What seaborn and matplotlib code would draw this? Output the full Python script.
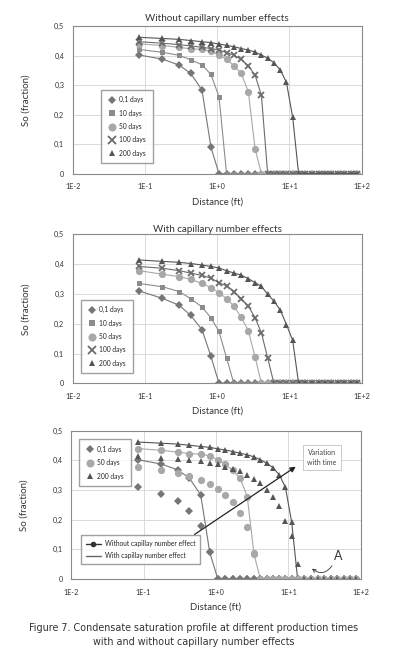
#! /usr/bin/env python3

import numpy as np
import matplotlib
matplotlib.use("Agg")
import matplotlib.pyplot as plt
from matplotlib.lines import Line2D
import pandas as pd
import seaborn as sns

sns.set_style("whitegrid")
plt.rcParams['font.family'] = ['Lato', 'DejaVu Sans']

# radial distance of the grid blocks (ft)
dist = [0.083, 0.175, 0.297, 0.43, 0.617, 0.82, 1.06, 1.35, 1.7, 2.15, 2.7, 3.35,
        4.1, 5.0, 6.1, 7.5, 9.1, 11.1, 13.4, 16.5, 20.6, 25.3, 31.0, 38.1, 46.9,
        57.6, 70.7, 87.0]

days = ["0,1 days", "10 days", "50 days", "100 days", "200 days"]

# So without capillary number effects (beyond the front So = 0)
wo_01 = [0.402, 0.388, 0.368, 0.340, 0.283, 0.090]
wo_10 = [0.421, 0.411, 0.401, 0.386, 0.369, 0.336, 0.261]
wo_50 = [0.440, 0.434, 0.428, 0.423, 0.421, 0.415, 0.402, 0.387, 0.366, 0.340, 0.278, 0.084]
wo_100 = [0.447, 0.442, 0.437, 0.433, 0.428, 0.424, 0.419, 0.410, 0.402, 0.387, 0.365,
          0.334, 0.265]
wo_200 = [0.462, 0.458, 0.455, 0.451, 0.447, 0.444, 0.439, 0.435, 0.430, 0.424, 0.419,
          0.412, 0.402, 0.391, 0.376, 0.351, 0.309, 0.191]

# So with capillary number effects
w_01 = [0.310, 0.285, 0.262, 0.228, 0.180, 0.090]
w_10 = [0.335, 0.324, 0.308, 0.284, 0.256, 0.220, 0.174, 0.085]
w_50 = [0.378, 0.366, 0.358, 0.349, 0.335, 0.321, 0.304, 0.284, 0.259, 0.222, 0.177, 0.088]
w_100 = [0.392, 0.386, 0.378, 0.370, 0.362, 0.353, 0.337, 0.327, 0.308, 0.284, 0.259,
         0.220, 0.169, 0.085]
w_200 = [0.414, 0.409, 0.406, 0.402, 0.397, 0.392, 0.387, 0.378, 0.370, 0.363, 0.351,
         0.338, 0.325, 0.299, 0.276, 0.245, 0.197, 0.144]
w_200_fig3 = w_200 + [0.050]   # bottom plot shows one more point

yticks = [0, 0.1, 0.2, 0.3, 0.4, 0.5]
ytick_labels = ["0", "0,1", "0,2", "0,3", "0,4", "0,5"]
xticks = [0.01, 0.1, 1, 10, 100]
xtick_labels = ["1E-2", "1E-1", "1E+0", "1E+1", "1E+2"]

colors = ["#767676", "#8c8c8c", "#a8a8a8", "#6c6c6c", "#555555"]
markers = ["D", "s", "o", "x", "^"]
msizes = [3.8, 3.6, 5.2, 4.6, 4.4]


def pad(vals):
    return list(vals) + [0.0] * (len(dist) - len(vals))


def style_axes(ax):
    ax.set_xscale("log")
    ax.set_xlim(0.01, 100)
    ax.set_ylim(0, 0.5)
    ax.set_xticks(xticks)
    ax.set_xticklabels(xtick_labels)
    ax.set_yticks(yticks)
    ax.set_yticklabels(ytick_labels)
    ax.minorticks_off()
    ax.tick_params(length=0, labelsize=5.2, colors="#333333")
    ax.tick_params(axis="x", pad=7)
    ax.tick_params(axis="y", pad=6)
    ax.grid(True, color="#d4d4d4", linewidth=0.6)
    for s in ax.spines.values():
        s.set_color("#8a8a8a")
        s.set_linewidth(0.8)
    ax.set_xlabel("Distance (ft)", fontsize=6.8, color="#333333", labelpad=5)
    ax.set_ylabel("So (fraction)", fontsize=7.0, color="#333333", labelpad=17)


def draw(ax, series, idx, lines=True):
    for i, vals in zip(idx, series):
        y = pad(vals)
        kw = dict(marker=markers[i], markersize=msizes[i], color=colors[i],
                  markeredgecolor=colors[i])
        if markers[i] == "x":
            kw["markeredgewidth"] = 1.3
        else:
            kw["markeredgewidth"] = 0
        if lines:
            sns.lineplot(x=dist, y=y, ax=ax, linewidth=0.8, **kw)
        else:
            sns.lineplot(x=dist, y=y, ax=ax, linestyle="", **kw)


def marker_handles(idx):
    hs = []
    for i in idx:
        hs.append(Line2D([], [], linestyle="none", marker=markers[i],
                         markersize=msizes[i] + 0.6, color=colors[i],
                         markeredgecolor=colors[i],
                         markeredgewidth=1.3 if markers[i] == "x" else 0))
    return hs


fig = plt.figure(figsize=(3.97, 6.70), dpi=100)

# top: without capillary number effects
ax1 = fig.add_axes([0.183, 0.7407, 0.728, 0.2204])
draw(ax1, [wo_01, wo_10, wo_50, wo_100, wo_200], range(5))
style_axes(ax1)
ax1.set_title("Without capillary number effects", fontsize=7.1, color="#333333", pad=4)
ax1.legend(marker_handles(range(5)), days, loc="lower left",
           bbox_to_anchor=(0.085, 0.047), fontsize=4.8, frameon=True, fancybox=False,
           edgecolor="#8a8a8a", labelspacing=0.95, handletextpad=0.4,
           borderpad=1.0, handlelength=1.4)

# middle: with capillary number effects
ax2 = fig.add_axes([0.183, 0.4279, 0.728, 0.2224])
draw(ax2, [w_01, w_10, w_50, w_100, w_200], range(5))
style_axes(ax2)
ax2.set_title("With capillary number effects", fontsize=7.1, color="#333333", pad=1.5)
ax2.legend(marker_handles(range(5)), days, loc="lower left",
           bbox_to_anchor=(0.016, 0.044), fontsize=4.8, frameon=True, fancybox=False,
           edgecolor="#8a8a8a", labelspacing=0.95, handletextpad=0.4,
           borderpad=1.0, handlelength=1.4)

# bottom: comparison
ax3 = fig.add_axes([0.179, 0.1358, 0.730, 0.2213])
draw(ax3, [wo_01, wo_50, wo_200], [0, 2, 4])
draw(ax3, [w_01, w_50, w_200_fig3], [0, 2, 4], lines=False)
style_axes(ax3)
leg1 = ax3.legend(marker_handles([0, 2, 4]), [days[0], days[2], days[4]],
                  loc="upper left", bbox_to_anchor=(0.015, 0.966), fontsize=4.8,
                  frameon=True, fancybox=False, edgecolor="#8a8a8a",
                  labelspacing=0.95, handletextpad=0.4, borderpad=1.0,
                  handlelength=1.4)
ax3.add_artist(leg1)
h2 = [Line2D([], [], color="#333333", linewidth=1.0, marker="o", markersize=3),
      Line2D([], [], color="#666666", linewidth=1.0)]
ax3.legend(h2, ["Without capillay number effect", "With capillay number effect"],
           loc="lower left", bbox_to_anchor=(0.024, 0.079), fontsize=4.8,
           frameon=True, fancybox=False, edgecolor="#8a8a8a", labelspacing=0.8,
           handletextpad=0.6, borderpad=0.7, handlelength=2.2)

ax3.annotate("", xy=(13.6, 0.384), xytext=(0.47, 0.145),
             arrowprops=dict(arrowstyle="-|>", color="#222222", lw=0.9,
                             mutation_scale=8))
ax3.text(29, 0.41, "Variation\nwith time", fontsize=5.0, color="#444444",
         ha="center", va="center", linespacing=1.5,
         bbox=dict(boxstyle="square,pad=0.6", fc="white", ec="#c0c0c0", lw=0.6))
ax3.text(48.6, 0.078, "A", fontsize=9, color="#333333", ha="center", va="center")
ax3.annotate("", xy=(19.8, 0.041), xytext=(42, 0.052),
             arrowprops=dict(arrowstyle="->", color="#333333", lw=0.6,
                             connectionstyle="arc3,rad=-0.6", mutation_scale=6))

fig.text(0.487, 0.052, "Figure 7. Condensate saturation profile at different production times\n"
         "with and without capillary number effects",
         ha="center", va="center", fontsize=6.9, color="#333333",
         family=["DejaVu Sans"], linespacing=1.45)

fig.savefig("out.png", dpi=100)
